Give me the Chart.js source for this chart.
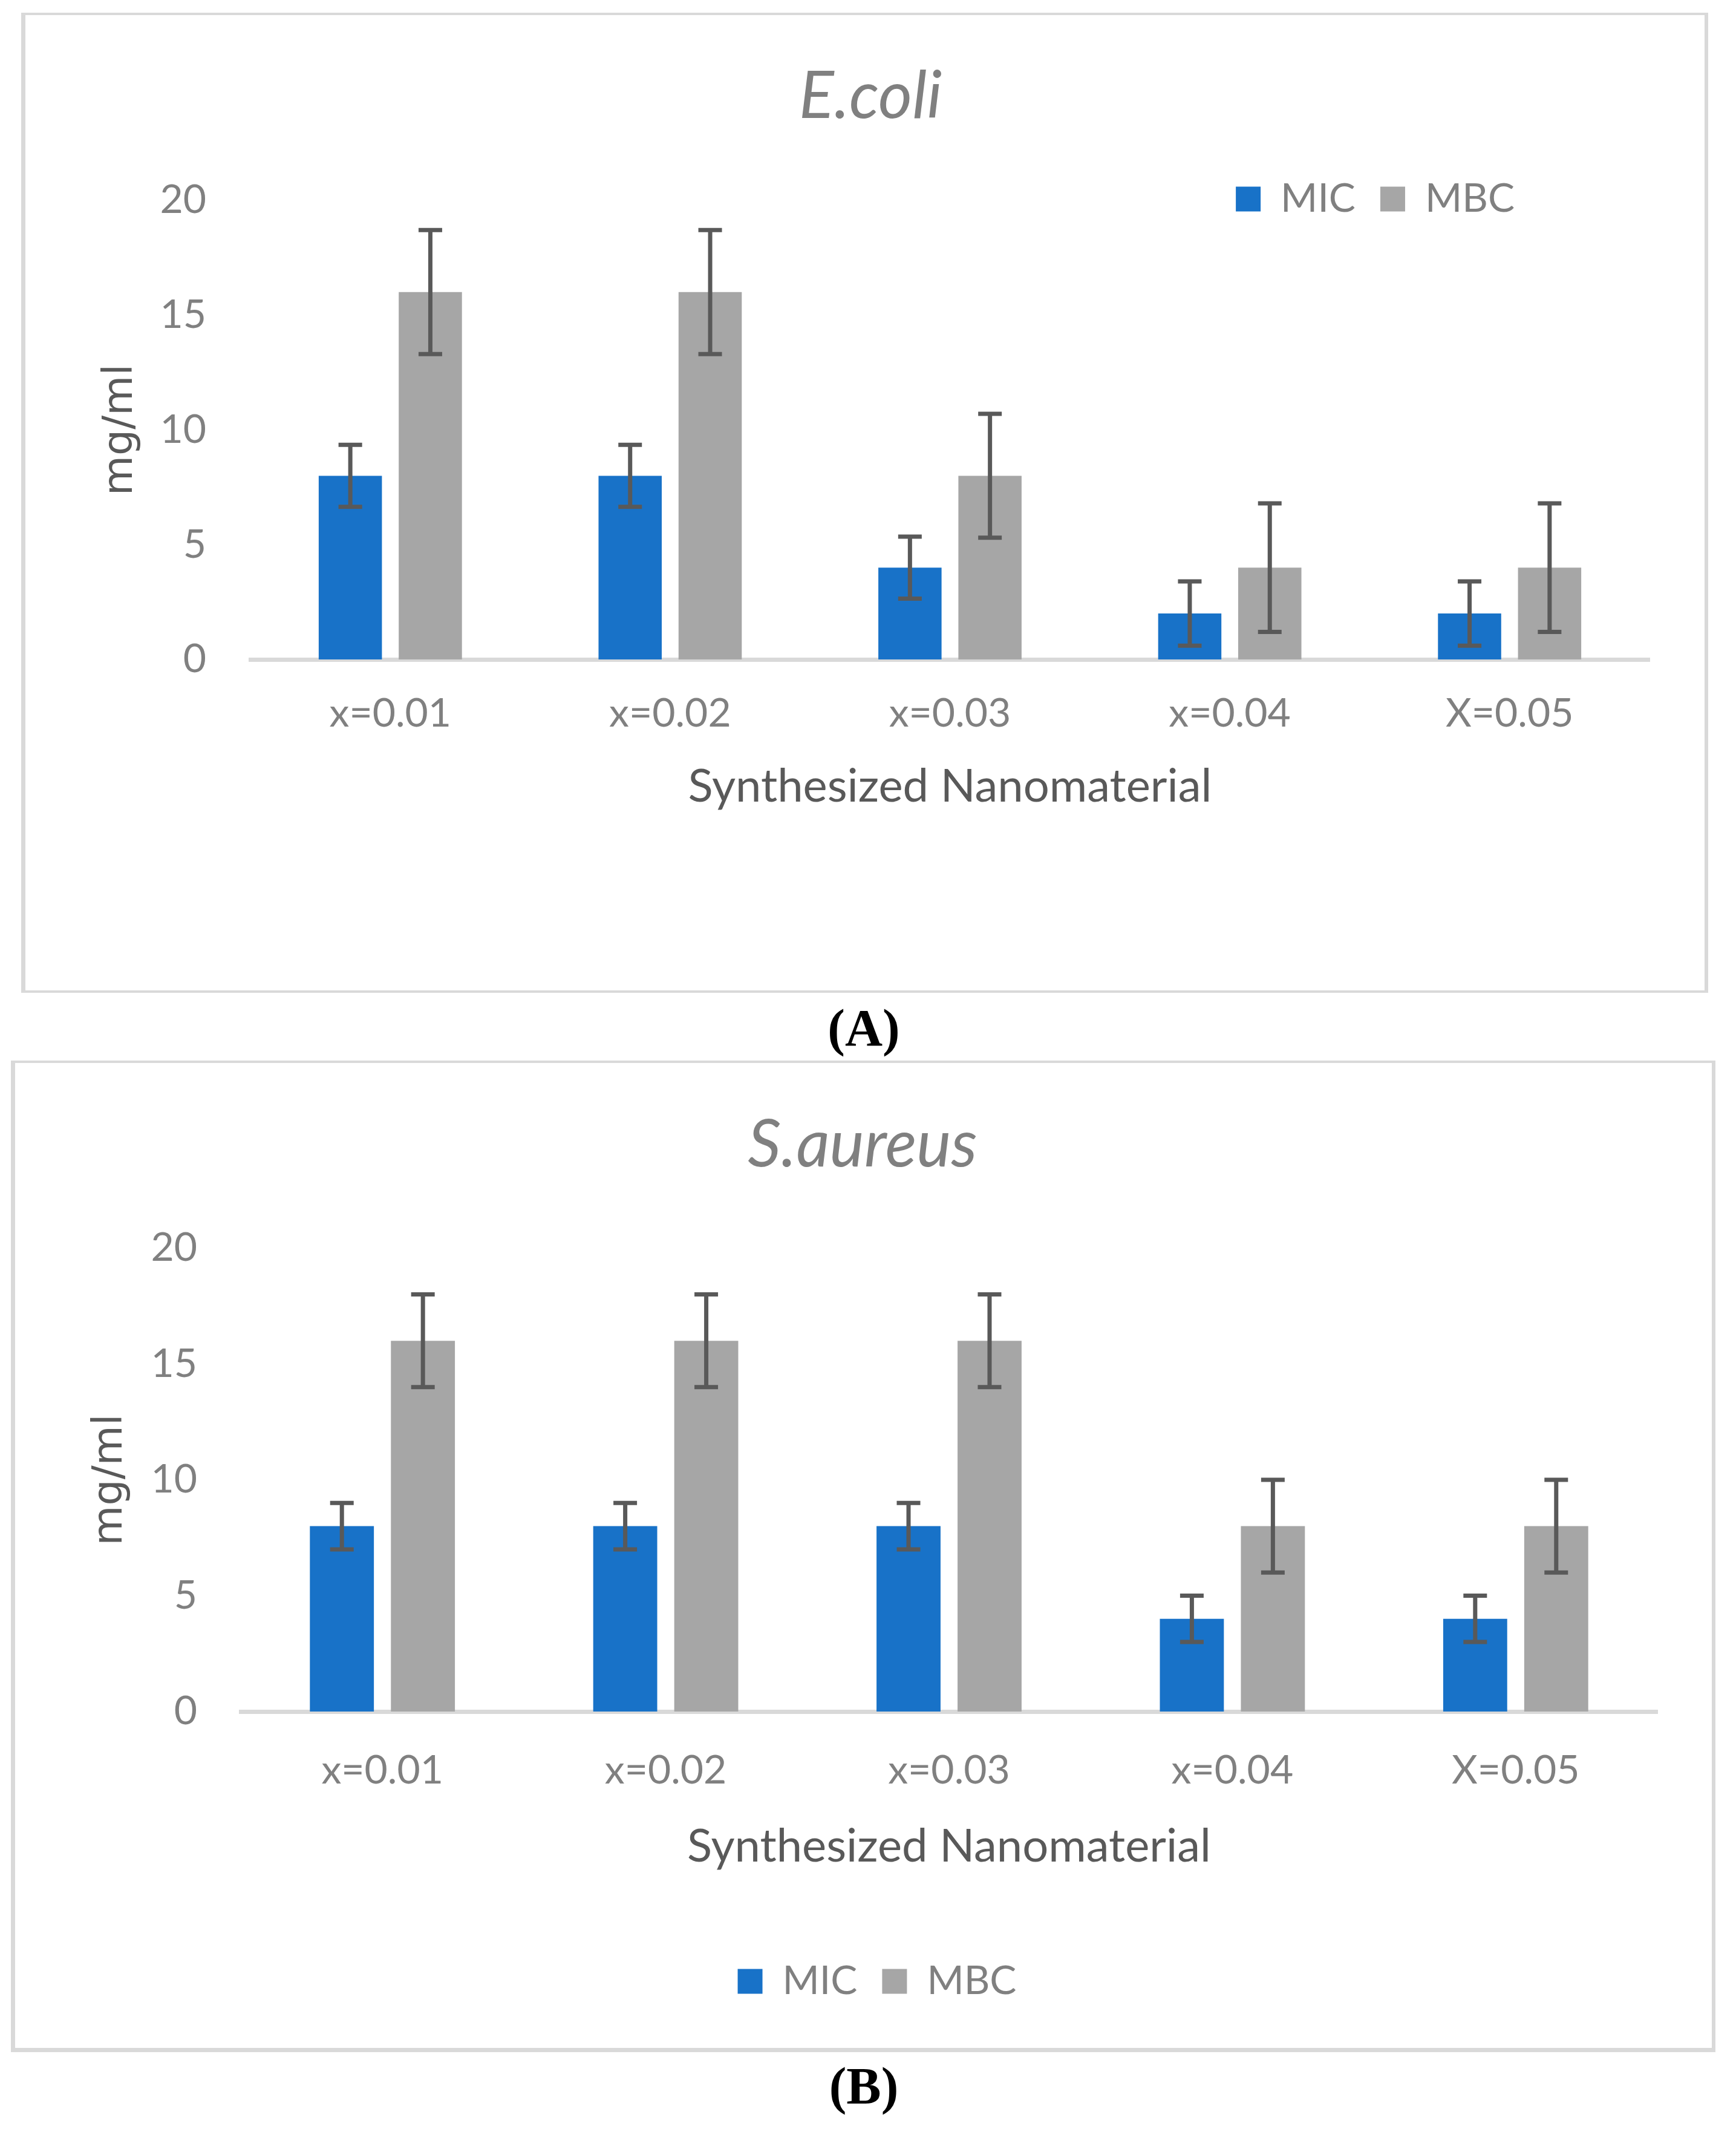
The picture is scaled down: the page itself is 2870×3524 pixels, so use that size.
<!DOCTYPE html>
<html>
<head>
<meta charset="utf-8">
<script src="https://cdn.jsdelivr.net/npm/chart.js@4.4.1/dist/chart.umd.min.js"></script>
<style>
  html, body { margin: 0; padding: 0; background: #fff; }
  body { position: relative; width: 2870px; height: 3524px; overflow: hidden; }
  .panel { position: absolute; box-sizing: border-box; border-style: solid; border-color: #d9d9d9; }
  #panelA { left: 35px; top: 21px; width: 2789px; height: 1620px; border-width: 4px 6px 4px 7px; }
  #panelB { left: 18px; top: 1753px; width: 2818px; height: 1639px; border-width: 4px 6px 7px 7px; }
  canvas { position: absolute; left: 0; }
  #chartA { top: 0; }
  #chartB { top: 1700px; }
  .caption { position: absolute; left: 1228px; width: 400px; text-align: center;
             font-family: "Liberation Serif", serif; font-weight: bold; font-size: 86px; line-height: 86px; color: #000; }
</style>
</head>
<body>
<div class="panel" id="panelA"></div>
<div class="panel" id="panelB"></div>
<canvas id="chartA" width="2870" height="1700"></canvas>
<canvas id="chartB" width="2870" height="1824"></canvas>
<div class="caption" style="top:1656px">(A)</div>
<div class="caption" style="top:3405px">(B)</div>

<script>
const labels = ["x=0.01", "x=0.02", "x=0.03", "x=0.04", "X=0.05"];

// E.coli
const ecoliMIC = [8, 8, 4, 2, 2];
const ecoliMBC = [16, 16, 8, 4, 4];
const ecoliMICErr = [1.35, 1.35, 1.35, 1.4, 1.4];
const ecoliMBCErr = [2.7, 2.7, 2.7, 2.8, 2.8];

// S.aureus
const saureusMIC = [8, 8, 8, 4, 4];
const saureusMBC = [16, 16, 16, 8, 8];
const saureusMICErr = [1, 1, 1, 1, 1];
const saureusMBCErr = [2, 2, 2, 2, 2];

const yTicks = [0, 5, 10, 15, 20];

const blue = "#1872c8";
const grey = "#a6a6a6";
const tickGrey = "#808080";
const darkGrey = "#595959";

// draws the +/- error bars on top of each bar
const errorBars = {
    id: "errorBars",
    afterDatasetsDraw(chart, args, opts) {
        const ctx = chart.ctx;
        const y = chart.scales.y;
        ctx.save();
        ctx.strokeStyle = opts.color;
        ctx.lineWidth = opts.width;
        chart.data.datasets.forEach(function (ds, i) {
            const meta = chart.getDatasetMeta(i);
            meta.data.forEach(function (bar, j) {
                const v = ds.data[j];
                const e = ds.errors[j];
                const top = y.getPixelForValue(v + e);
                const bot = y.getPixelForValue(v - e);
                const half = opts.cap / 2;
                ctx.beginPath();
                ctx.moveTo(bar.x, top);
                ctx.lineTo(bar.x, bot);
                ctx.moveTo(bar.x - half, top);
                ctx.lineTo(bar.x + half, top);
                ctx.moveTo(bar.x - half, bot);
                ctx.lineTo(bar.x + half, bot);
                ctx.stroke();
            });
        });
        ctx.restore();
    },
};

// moves the legend to where Excel put it (relative to the plot area)
const legendNudge = {
    id: "legendNudge",
    beforeDraw(chart, args, opts) {
        const lg = chart.legend;
        const area = chart.chartArea;
        const h = lg.bottom - lg.top;
        if (lg._baseLeft === undefined) {
            lg._baseLeft = lg.left;
            lg._baseRight = lg.right;
        }
        lg.left = lg._baseLeft + opts.dx;
        lg.right = lg._baseRight + opts.dx;
        lg.top = area.top + opts.dy;
        lg.bottom = lg.top + h;
    },
};

function makeChart(el, cfg) {
    return new Chart(el, {
        type: "bar",
        data: {
            labels: labels,
            datasets: [
                {
                    label: "MIC",
                    data: cfg.mic,
                    errors: cfg.micErr,
                    backgroundColor: blue,
                    borderWidth: 0,
                    categoryPercentage: 0.572,
                    barPercentage: 0.79,
                },
                {
                    label: "MBC",
                    data: cfg.mbc,
                    errors: cfg.mbcErr,
                    backgroundColor: grey,
                    borderWidth: 0,
                    categoryPercentage: 0.572,
                    barPercentage: 0.79,
                },
            ],
        },
        plugins: [errorBars, legendNudge],
        options: {
            responsive: false,
            animation: false,
            devicePixelRatio: 1,
            events: [],
            layout: { padding: cfg.padding },
            scales: {
                x: {
                    grid: { display: false, drawTicks: false },
                    border: { display: true, color: "#d9d9d9", width: 7 },
                    ticks: {
                        color: tickGrey,
                        font: { family: "Lato", size: 66 },
                        padding: cfg.xTickPad,
                        maxRotation: 0,
                    },
                    title: {
                        display: true,
                        text: "Synthesized Nanomaterial",
                        color: darkGrey,
                        font: { family: "Lato", size: 76 },
                        padding: { top: 0, bottom: cfg.xTitlePad },
                    },
                    afterFit: function (s) {
                        s.height = cfg.xHeight;
                    },
                },
                y: {
                    min: 0,
                    max: 20,
                    afterBuildTicks: function (s) {
                        s.ticks = yTicks.map((v) => ({ value: v }));
                    },
                    grid: { display: false, drawTicks: false },
                    border: { display: false },
                    ticks: {
                        color: tickGrey,
                        font: { family: "Lato", size: 66 },
                        padding: cfg.yTickPad,
                    },
                    title: {
                        display: true,
                        text: "mg/ml",
                        color: darkGrey,
                        font: { family: "DejaVu Sans", size: 68 },
                        padding: { top: cfg.yTitlePad, bottom: 0 },
                    },
                    afterFit: function (s) {
                        s.width = cfg.yWidth;
                    },
                },
            },
            plugins: {
                title: {
                    display: true,
                    text: cfg.title,
                    color: tickGrey,
                    font: { family: "Lato", size: 108, style: "italic", weight: "normal", lineHeight: 1 },
                    padding: cfg.titlePad,
                },
                legend: {
                    position: cfg.legendPos,
                    align: cfg.legendAlign,
                    labels: {
                        boxWidth: 41,
                        boxHeight: 41,
                        padding: 41,
                        color: tickGrey,
                        font: { family: "Lato", size: 66 },
                    },
                },
                tooltip: { enabled: false },
                errorBars: { color: darkGrey, width: 7, cap: 39 },
                legendNudge: cfg.nudge,
            },
        },
    });
}

makeChart(document.getElementById("chartA"), {
    title: "E.coli",
    mic: ecoliMIC,
    mbc: ecoliMBC,
    micErr: ecoliMICErr,
    mbcErr: ecoliMBCErr,
    padding: { left: 151, right: 143, top: 0, bottom: 354 },
    titlePad: { top: 106, bottom: 0 },
    xHeight: 256,
    xTickPad: 50,
    xTitlePad: 0,
    yWidth: 263,
    yTickPad: 73,
    yTitlePad: 9,
    legendPos: "top",
    legendAlign: "end",
    nudge: { dx: -182, dy: -76 },
});

makeChart(document.getElementById("chartB"), {
    title: "S.aureus",
    mic: saureusMIC,
    mbc: saureusMBC,
    micErr: saureusMICErr,
    mbcErr: saureusMBCErr,
    padding: { left: 112, right: 130, top: 0, bottom: 207 },
    titlePad: { top: 139, bottom: 116 },
    xHeight: 371,
    xTickPad: 58,
    xTitlePad: 102,
    yWidth: 286,
    yTickPad: 72,
    yTitlePad: 31,
    legendPos: "bottom",
    legendAlign: "center",
    nudge: { dx: 24, dy: 1138 },
});
</script>
</body>
</html>
